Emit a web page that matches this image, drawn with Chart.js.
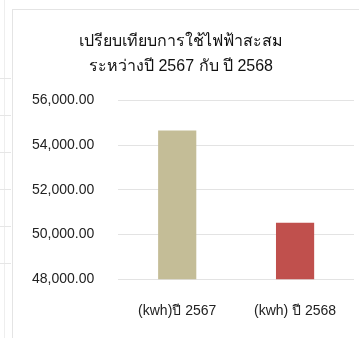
<!DOCTYPE html>
<html>
<head>
<meta charset="utf-8">
<script src="https://cdn.jsdelivr.net/npm/chart.js@4.4.1/dist/chart.umd.min.js"></script>
<style>
    html, body { margin: 0; padding: 0; background: #fff; width: 359px; height: 338px; overflow: hidden; }
    .side { position: absolute; left: 4px; top: 0; width: 0; height: 338px; border-left: 1px solid #eee; }
    .side-row { position: absolute; left: 0; width: 11px; height: 0; border-top: 1px solid #e6e6e6; }
    .card { position: absolute; left: 12px; top: 9px; width: 360px; height: 340px; border: 1px solid #e4e4e4; box-sizing: border-box; }
    #usageChart { position: absolute; left: 8px; top: 10px; }
</style>
</head>
<body>
<div class="side"></div>
<div class="side-row" style="top:78px"></div>
<div class="side-row" style="top:115px"></div>
<div class="side-row" style="top:152px"></div>
<div class="side-row" style="top:189px"></div>
<div class="side-row" style="top:226px"></div>
<div class="side-row" style="top:263px"></div>
<div class="card"></div>
<canvas id="usageChart" width="351" height="328"></canvas>
<script>
    "use strict";

    // Data
    const categories = ["(kwh)ปี 2567", "(kwh) ปี 2568"];
    const usageValues = [54660, 50530];
    const barColors = ["#c4bd97", "#c0504d"];
    const titleLines = ["เปรียบเทียบการใช้ไฟฟ้าสะสม", "ระหว่างปี 2567 กับ ปี 2568"];
    const yMin = 48000;
    const yMax = 56000;
    const yStep = 2000;

    const fontFamily = "Arial, 'Liberation Sans', 'Noto Sans', sans-serif";

    const ctx = document.getElementById("usageChart").getContext("2d");

    new Chart(ctx, {
        type: "bar",
        data: {
            labels: categories,
            datasets: [
                {
                    label: "kwh",
                    data: usageValues,
                    backgroundColor: barColors,
                    barPercentage: 0.4,
                    categoryPercentage: 0.81,
                },
            ],
        },
        options: {
            responsive: false,
            animation: false,
            layout: {
                padding: { top: 11, right: 5, bottom: 2, left: 0 },
            },
            plugins: {
                legend: { display: false },
                tooltip: { enabled: false },
                title: {
                    display: true,
                    text: titleLines,
                    color: "#111",
                    font: { family: fontFamily, size: 16, weight: "normal", lineHeight: 1.55 },
                    padding: { top: 8, bottom: 22 },
                },
            },
            scales: {
                x: {
                    ticks: {
                        color: "#222",
                        padding: 16,
                        font: { family: fontFamily, size: 14 },
                    },
                    grid: { display: false },
                    border: { display: false },
                },
                y: {
                    min: yMin,
                    max: yMax,
                    ticks: {
                        stepSize: yStep,
                        color: "#222",
                        padding: 24,
                        font: { family: fontFamily, size: 14 },
                        callback: function (value) {
                            return value.toLocaleString("en-US", {
                                minimumFractionDigits: 2,
                                maximumFractionDigits: 2,
                            });
                        },
                    },
                    grid: {
                        color: "#e3e3e3",
                        drawTicks: false,
                    },
                    border: { display: false },
                },
            },
        },
    });
</script>
</body>
</html>
